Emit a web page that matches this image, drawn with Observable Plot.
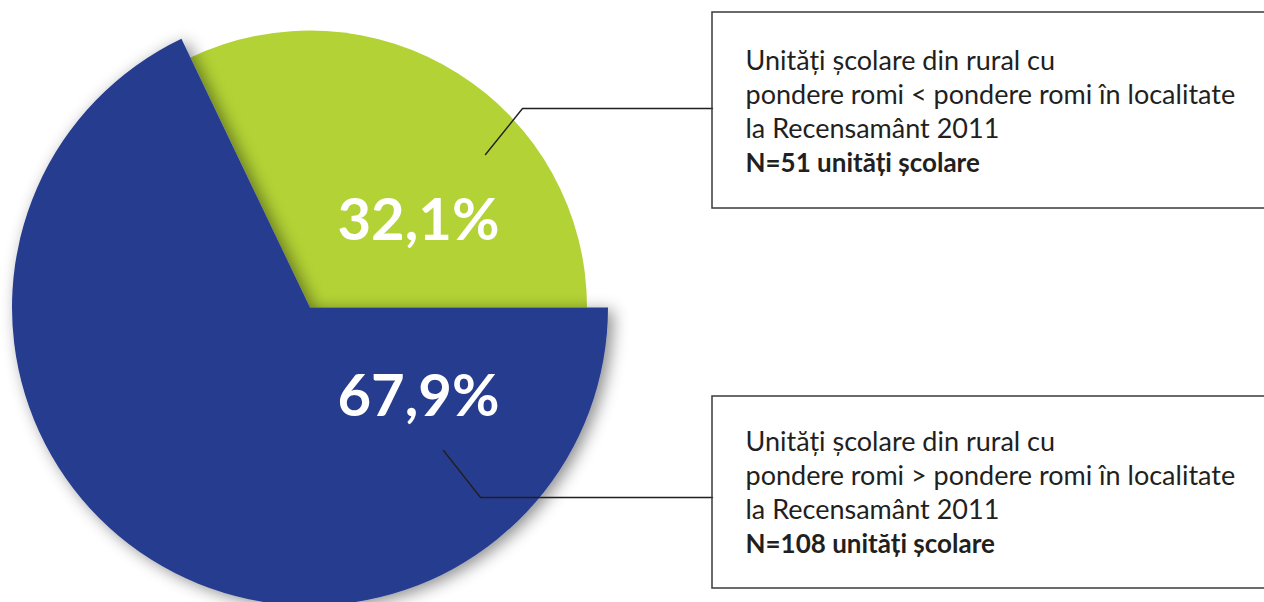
<!DOCTYPE html>
<html>
<head>
<meta charset="utf-8">
<script src="https://cdn.jsdelivr.net/npm/d3@7"></script>
<script src="https://cdn.jsdelivr.net/npm/@observablehq/plot@0.6"></script>
<style>
  html, body { margin: 0; padding: 0; background: #fff; overflow: hidden; }
</style>
</head>
<body>
<div id="chart"></div>
<script>
// ---- data ----
const categories = ["pondere romi < pondere romi în localitate", "pondere romi > pondere romi în localitate"];
const shares = [32.1, 67.9];
const percentLabels = ["32,1%", "67,9%"];
const counts = [51, 108];
const headLine = "Unități școlare din rural cu";
const censusLine = "la Recensamânt 2011";
const countLabels = ["N=51 unități școlare", "N=108 unități școlare"];
const colors = ["#b2d235", "#273c8f"];

// ---- layout (pixels, identity scales) ----
const W = 1264, H = 602;
const center = {x: 310, y: 307.5};
const radii = [277, 298];
const slices = categories.map((c, i) => ({category: c, share: shares[i], color: colors[i], r: radii[i]}));

const boxTops = [12, 396];
const boxBottoms = [208, 588];
const firstBaselines = [69, 450];
const boxLeft = 712;
const textX = 745;
const fontFamily = "Lato, 'Open Sans', sans-serif";

const textRows = [];
categories.forEach((c, i) => {
  const lines = [headLine, c, censusLine];
  lines.forEach((t, j) => textRows.push({text: t, x: textX, y: firstBaselines[i] + j * 34, bold: false}));
  textRows.push({text: countLabels[i], x: textX, y: firstBaselines[i] + 3 * 34, bold: true});
});

const boxes = categories.map((c, i) => ({x1: boxLeft, x2: W + 40, y1: boxTops[i], y2: boxBottoms[i]}));

const leaders = [
  [{x: 485, y: 154, k: 0}, {x: 522, y: 108, k: 0}, {x: boxLeft, y: 108, k: 0}],
  [{x: 443, y: 450, k: 1}, {x: 480, y: 497, k: 1}, {x: boxLeft, y: 497, k: 1}]
].flat();

const pctRows = percentLabels.map((t, i) => ({text: t, x: 418, y: [239, 415][i]}));

// ---- custom pie mark using the plot's scales ----
function pieMark(data) {
  return (index, scales, values, dims) => {
    const total = d3.sum(data, d => d.share);
    const start = Math.PI / 2 - 2 * Math.PI * data[0].share / total;
    const arcs = d3.pie().sort(null).value(d => d.share)
      .startAngle(start).endAngle(start + 2 * Math.PI)(data);
    const cx = scales.x(center.x), cy = scales.y(center.y);
    const g = d3.create("svg:g");
    const defs = g.append("defs");
    const f = defs.append("filter").attr("id", "pie-shadow")
      .attr("x", "-20%").attr("y", "-20%").attr("width", "140%").attr("height", "140%");
    f.append("feDropShadow").attr("dx", 5).attr("dy", 3).attr("stdDeviation", 8)
      .attr("flood-color", "#000").attr("flood-opacity", 0.45);
    arcs.forEach(a => {
      const r = scales.x(center.x + a.data.r) - cx;
      const path = d3.arc().innerRadius(0).outerRadius(r)(a);
      const p = g.append("path")
        .attr("transform", `translate(${cx},${cy})`)
        .attr("d", path)
        .attr("fill", a.data.color);
      if (a.index === 1) p.attr("filter", "url(#pie-shadow)");
    });
    return g.node();
  };
}

const plot = Plot.plot({
  width: W,
  height: H,
  margin: 0,
  x: {domain: [0, W], range: [0, W], axis: null},
  y: {domain: [0, H], range: [0, H], axis: null},
  style: {overflow: "hidden", background: "#fff", fontFamily},
  marks: [
    pieMark(slices),
    Plot.line(leaders, {x: "x", y: "y", z: "k", stroke: "#231f20", strokeWidth: 1.4, curve: "linear"}),
    Plot.rect(boxes, {x1: "x1", x2: "x2", y1: "y1", y2: "y2", fill: "none", stroke: "#3a3a3a", strokeWidth: 1.5}),
    Plot.text(textRows.filter(d => !d.bold), {x: "x", y: "y", text: "text", textAnchor: "start", lineAnchor: "bottom",
      fontSize: 27, fill: "#231f20", fontFamily}),
    Plot.text(textRows.filter(d => d.bold), {x: "x", y: "y", text: "text", textAnchor: "start", lineAnchor: "bottom",
      fontSize: 26, fontWeight: "bold", fill: "#231f20", fontFamily}),
    Plot.text(pctRows, {x: "x", y: "y", text: "text", textAnchor: "middle", lineAnchor: "bottom",
      fontSize: 58, fontWeight: "bold", fill: "#fff", fontFamily})
  ]
});
document.getElementById("chart").appendChild(plot);
</script>
</body>
</html>
